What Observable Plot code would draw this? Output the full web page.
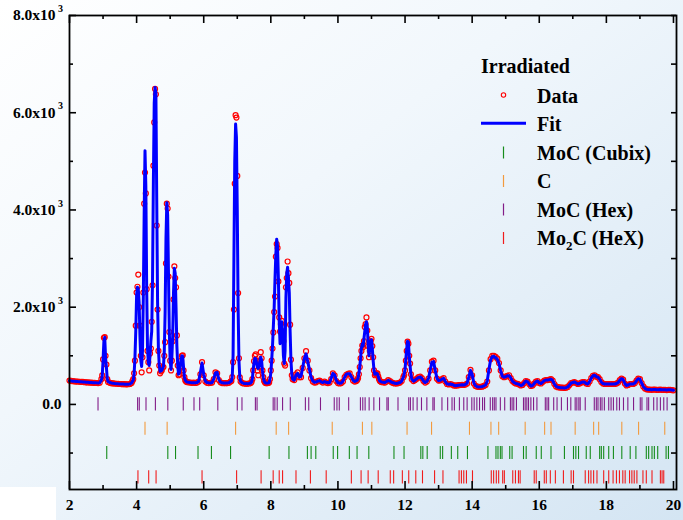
<!DOCTYPE html>
<html>
<head>
<meta charset="utf-8">
<script src="https://cdn.jsdelivr.net/npm/d3@7"></script>
<script src="https://cdn.jsdelivr.net/npm/@observablehq/plot@0.6"></script>
<style>
  html, body { margin: 0; padding: 0; }
  body {
    width: 683px; height: 520px; overflow: hidden; position: relative;
    background: linear-gradient(to bottom right, #ffffff 0%, #f1f7fc 40%, #d4e5f3 100%);
    font-family: "Liberation Serif", "Times New Roman", serif;
  }
  #corner { position: absolute; left: 0; top: 487px; width: 56px; height: 33px; background: #ffffff; }
  #chart { position: absolute; left: 0; top: 0; }
  #chart svg { display: block; background: transparent; }
</style>
</head>
<body>
<div id="corner"></div>
<div id="chart"></div>
<script>
// Powder diffraction scan, rows of [2θ, observed counts, calculated counts]
const lowAngle = [
  [2.00,490,485],[2.05,484,482],[2.10,478,479],[2.15,476,476],[2.20,470,473],[2.25,472,470],
  [2.30,466,468],[2.35,462,465],[2.40,463,462],[2.45,458,460],[2.50,455,457],[2.55,452,455],
  [2.60,451,452],[2.65,447,450],[2.70,446,448],[2.75,443,446],[2.80,441,444],[2.85,440,443],
  [2.90,446,446],[2.95,520,500],[2.975,596,580],[3.000,925,900],[3.025,1370,1300],[3.050,1383,1380],
  [3.075,1000,960],[3.100,820,760],[3.125,520,530],[3.150,462,470],[3.20,445,450],[3.25,438,440],
  [3.30,432,434],[3.35,430,430],[3.40,425,427],[3.45,424,424],[3.50,420,422],[3.55,419,420],
  [3.60,416,418],[3.65,417,416],[3.70,414,415],[3.75,415,416],[3.80,420,420],[3.85,440,440],
  [3.875,480,470]
];
const mainCluster = [
  [3.900,520,500],[3.925,640,620],[3.950,900,950],[3.975,1620,1500],[4.000,2300,2250],[4.025,2420,2410],
  [4.050,2670,2380],[4.075,2000,2100],[4.100,1620,1400],[4.125,1000,900],[4.150,660,780],[4.175,970,1100],
  [4.200,2300,2200],[4.225,4130,3900],[4.250,4770,5220],[4.275,4340,4500],[4.300,2370,2400],[4.325,1100,1150],
  [4.350,870,860],[4.375,700,800],[4.400,1050,1000],[4.425,1150,1300],[4.450,1700,1500],[4.475,2450,2600],
  [4.500,4910,4600],[4.525,5800,6200],[4.550,6490,6520],[4.575,6380,6400],[4.600,3680,4200],[4.625,1950,2100],
  [4.650,1100,1150],[4.675,800,800],[4.700,640,680],[4.725,680,690],[4.750,700,700],[4.775,760,740],
  [4.800,770,780],[4.825,1000,1100],[4.850,1280,1900],[4.875,2900,3400],[4.900,4130,4150],[4.925,4030,3900],
  [4.950,2630,2700],[4.975,1490,1500],[5.000,900,900],[5.025,700,720],[5.050,900,950],[5.075,1300,1400],
  [5.100,2160,2300],[5.125,2840,2800],[5.150,2600,2700],[5.175,2410,2000],[5.200,1420,1200],[5.225,800,800],
  [5.250,600,620],[5.275,620,650],[5.300,750,780],[5.325,900,920],[5.350,1000,1000],[5.375,1010,990],
  [5.400,700,750],[5.425,560,560],[5.450,490,500],[5.475,470,470],[5.500,460,460]
];
const midLow = [
  [5.55,455,455],[5.60,450,450],[5.65,445,448],[5.70,448,447],[5.75,442,446],[5.80,450,450],
  [5.85,470,475],[5.90,620,650],[5.95,870,850],[6.00,600,620],[6.05,470,480],[6.10,445,450],
  [6.15,440,445],[6.20,445,442],[6.25,450,450],[6.30,520,530],[6.35,660,650],[6.40,640,660],
  [6.45,500,520],[6.50,455,460],[6.55,440,445],[6.60,440,440],[6.65,438,440],[6.70,440,440],
  [6.75,445,445],[6.80,470,470]
];
const peak695 = [
  [6.825,480,480],[6.850,560,560],[6.875,870,1000],[6.900,1950,3000],[6.925,4540,5000],[6.950,5950,5770],
  [6.975,5900,5500],[7.000,4700,4000],[7.025,2290,2000],[7.050,950,900],[7.075,555,560],[7.100,470,470],
  [7.15,440,445],[7.20,430,432],[7.25,425,428],[7.30,425,426],[7.35,430,430],[7.40,440,440]
];
const doublet760 = [
  [7.425,460,460],[7.450,520,530],[7.475,700,720],[7.500,890,870],[7.525,1000,950],[7.550,1030,940],
  [7.575,900,850],[7.600,700,760],[7.625,600,740],[7.650,760,780],[7.675,900,900],[7.700,1075,970],
  [7.725,950,900],[7.750,700,700],[7.775,560,560],[7.800,480,480],[7.825,450,450],[7.850,440,440]
];
const group820 = [
  [7.875,440,440],[7.900,440,438],[7.925,445,442],[7.950,450,450],[7.975,520,520],[8.000,700,650],
  [8.025,900,900],[8.050,1150,1200],[8.075,1480,1600],[8.100,1900,2000],[8.125,2220,2600],[8.150,3040,3100],
  [8.175,3300,3400],[8.200,3220,3250],[8.225,2530,2600],[8.250,1790,1700],[8.275,1500,1250],[8.300,1650,1600],
  [8.325,1720,1700],[8.350,1600,1500],[8.375,1300,1000],[8.400,840,840],[8.425,800,1100],[8.450,2410,2200],
  [8.475,2600,2700],[8.500,2940,2820],[8.525,2700,2600],[8.550,2500,2300],[8.575,1640,1500],[8.600,920,900],
  [8.625,600,620],[8.650,520,520]
];
const midRange = [
  [8.70,500,500],[8.75,620,600],[8.80,660,640],[8.85,560,560],[8.90,560,580],[8.95,750,760],
  [9.00,950,950],[9.05,1095,1040],[9.10,900,880],[9.15,700,720],[9.20,540,560],[9.25,470,480],
  [9.30,450,455],[9.35,455,460],[9.40,480,480],[9.45,490,490],[9.50,470,465],[9.55,450,450],
  [9.60,470,470],[9.65,450,455],[9.70,440,445],[9.75,450,450],[9.80,520,540],[9.85,640,640],
  [9.90,600,610],[9.95,480,500],[10.00,440,445],[10.05,430,435],[10.10,440,440],[10.15,470,480],
  [10.20,560,560],[10.25,610,620],[10.30,630,630],[10.35,640,630],[10.40,560,570],[10.45,490,500],
  [10.50,470,470],[10.55,480,490]
];
const group1090 = [
  [10.575,500,500],[10.600,540,540],[10.625,620,640],[10.650,770,780],[10.675,950,950],[10.700,1100,1150],
  [10.725,1210,1250],[10.750,1180,1200],[10.775,1300,1350],[10.800,1590,1500],[10.825,1650,1650],[10.850,1790,1700],
  [10.875,1520,1600],[10.900,1200,1250],[10.925,970,1000],[10.950,1100,1150],[10.975,1300,1300],[11.000,1350,1330],
  [11.025,1200,1150],[11.050,970,900],[11.075,700,700],[11.100,600,620],[11.125,620,630],[11.150,640,640],
  [11.175,640,630],[11.200,580,580],[11.225,520,520],[11.250,480,480],[11.275,470,470],[11.300,460,460],
  [11.35,455,455],[11.40,450,450],[11.45,470,470],[11.50,500,495],[11.55,480,480],[11.60,455,455],
  [11.65,440,445],[11.70,430,435],[11.75,430,432],[11.80,440,440],[11.85,450,450],[11.90,480,480],
  [11.95,560,560],[11.975,600,620],[12.000,700,720],[12.025,900,950],[12.050,1100,1150],[12.075,1290,1300],
  [12.100,1250,1280],[12.125,1000,1000],[12.150,840,800],[12.175,620,620],[12.200,520,520]
];
const highAngle = [
  [12.25,480,480],[12.30,500,500],[12.35,530,530],[12.40,560,555],[12.45,570,565],[12.50,540,540],
  [12.55,480,480],[12.60,450,450],[12.65,470,470],[12.70,530,540],[12.75,700,700],[12.80,880,870],
  [12.85,900,880],[12.90,700,700],[12.95,530,540],[13.00,490,490],[13.05,495,495],[13.10,520,520],
  [13.15,540,535],[13.20,470,470],[13.25,420,420],[13.30,410,415],[13.35,420,420],[13.40,410,410],
  [13.45,390,395],[13.50,385,385],[13.55,390,390],[13.60,395,395],[13.65,400,400],[13.70,405,405],
  [13.75,400,400],[13.80,410,410],[13.85,430,440],[13.90,560,560],[13.95,710,700],[14.00,600,620],
  [14.05,430,440],[14.10,380,385],[14.15,365,365],[14.20,360,360],[14.25,362,362],[14.30,365,365],
  [14.35,380,380],[14.40,400,400],[14.45,470,480],[14.50,700,720],[14.55,930,920],[14.60,1000,980],
  [14.65,1000,990],[14.70,980,960],[14.75,940,930],[14.80,850,840],[14.85,700,690],[14.90,580,580],
  [14.95,560,560],[15.00,570,570],[15.05,590,590],[15.10,600,590],[15.15,540,545],[15.20,480,480],
  [15.25,450,450],[15.30,430,430],[15.35,425,425],[15.40,410,410],[15.45,390,390],[15.50,400,400],
  [15.55,440,440],[15.60,480,480],[15.65,470,470],[15.70,420,420],[15.75,380,380],[15.80,390,390],
  [15.85,430,430],[15.90,470,470],[15.95,480,480],[16.00,440,440],[16.05,430,430],[16.10,460,460],
  [16.15,490,490],[16.20,500,500],[16.25,500,500],[16.30,510,510],[16.35,520,520],[16.40,490,490],
  [16.45,420,420],[16.50,370,370],[16.55,355,355],[16.60,350,350],[16.65,345,345],[16.70,345,345],
  [16.75,340,340],[16.80,345,345],[16.85,360,360],[16.90,400,400],[16.95,440,440],[17.00,450,450],
  [17.05,460,460],[17.10,440,440],[17.15,420,420],[17.20,430,430],[17.25,450,450],[17.30,460,460],
  [17.35,460,460],[17.40,430,430],[17.45,420,420],[17.50,470,470],[17.55,540,540],[17.60,590,590],
  [17.65,600,600],[17.70,570,570],[17.75,560,560],[17.80,520,520],[17.85,460,460],[17.90,430,430],
  [17.95,420,420],[18.00,420,420],[18.05,420,420],[18.10,420,420],[18.15,420,420],[18.20,420,420],
  [18.25,420,420],[18.30,430,430],[18.35,450,450],[18.40,500,500],[18.45,530,530],[18.50,510,510],
  [18.55,430,430],[18.60,390,390],[18.65,400,400],[18.70,420,420],[18.75,420,420],[18.80,420,420],
  [18.85,440,440],[18.90,490,490],[18.95,530,530],[19.00,520,520],[19.05,440,440],[19.10,370,370],
  [19.15,330,330],[19.20,310,310],[19.25,305,305],[19.30,305,305],[19.35,300,300],[19.40,305,305],
  [19.45,305,305],[19.50,300,300],[19.55,300,300],[19.60,305,305],[19.65,300,300],[19.70,300,300],
  [19.75,300,300],[19.80,295,295],[19.85,300,300],[19.90,300,300],[19.95,295,295],[20.00,290,290]
];

// Bragg reflection positions (2θ) for each phase
const reflMoCCubix = [3.11,4.93,5.16,5.83,6.23,6.80,7.95,8.54,9.09,9.20,9.34,9.86,9.99,10.34,10.57,10.92,
  11.67,11.97,12.47,12.53,12.66,13.05,13.12,13.38,13.57,13.86,14.47,14.71,14.77,14.84,14.89,15.12,15.19,
  15.53,15.61,15.91,16.06,16.35,16.75,17.02,17.09,17.17,17.40,17.52,17.80,17.85,17.92,18.07,18.21,18.46,
  18.71,18.88,19.19,19.26,19.36,19.43,19.53,19.78,19.85];
const reflC = [4.25,4.91,6.95,8.16,8.53,9.83,10.73,11.01,12.06,12.79,13.92,14.56,14.79,15.58,16.16,16.35,
  17.07,17.62,17.77,18.46,18.96,19.74];
const reflMoCHex = [2.85,4.03,4.08,4.28,4.56,4.93,5.39,5.71,5.88,6.42,7.00,7.14,7.54,7.59,8.07,8.12,8.19,
  8.35,8.58,9.03,9.13,9.48,9.89,9.97,10.04,10.32,10.67,10.74,10.81,10.93,11.07,11.24,11.46,11.50,11.79,
  12.11,12.16,12.24,12.36,12.49,12.65,12.83,12.87,13.10,13.27,13.40,13.47,13.62,13.75,13.85,13.99,14.06,
  14.14,14.22,14.31,14.37,14.54,14.61,14.66,14.71,14.84,14.97,15.14,15.19,15.24,15.32,15.53,15.58,15.63,
  15.68,15.75,15.83,15.93,16.18,16.23,16.28,16.43,16.53,16.66,16.84,16.94,17.07,17.12,17.18,17.22,17.37,
  17.64,17.70,17.75,17.82,17.87,17.94,18.07,18.14,18.21,18.31,18.39,18.51,18.64,18.81,19.01,19.06,19.21,
  19.26,19.41,19.51,19.61,19.71,19.81];
const reflMo2CHex = [4.04,4.36,4.58,5.95,6.98,7.71,8.07,8.25,8.35,8.75,9.18,9.65,10.40,10.69,10.90,11.20,
  11.56,11.66,11.92,12.11,12.32,12.52,12.88,13.13,13.61,13.68,13.75,13.83,14.01,14.57,14.64,14.72,14.79,
  14.91,14.96,15.21,15.29,15.38,15.43,15.85,15.91,16.15,16.21,16.33,16.48,16.72,16.95,17.02,17.37,17.47,
  17.54,17.62,17.72,17.92,18.07,18.20,18.30,18.39,18.49,18.56,18.69,18.76,18.83,18.91,19.09,19.19,19.36,
  19.61,19.66,19.71];

// Axis ticks
const xMajor = [2, 4, 6, 8, 10, 12, 14, 16, 18, 20];
const xMinor = [3, 5, 7, 9, 11, 13, 15, 17, 19];
const yMajor = [0, 2000, 4000, 6000, 8000];
const yMinor = [-1000, 1000, 3000, 5000, 7000];

const pattern = [...lowAngle, ...mainCluster, ...midLow, ...peak695, ...doublet760,
  ...group820, ...midRange, ...group1090, ...highAngle]
  .map(([t, obs, calc]) => ({t, obs, calc}));

// Each phase's reflection row sits at its own baseline below zero
const phases = [
  {name: "MoC (Cubix)", color: "#168c1c", row: -1000, refl: reflMoCCubix},
  {name: "C", color: "#f29a3e", row: -500, refl: reflC},
  {name: "MoC (Hex)", color: "#821c88", row: 0, refl: reflMoCHex},
  {name: "Mo2C (HeX)", color: "#f01c1c", row: -1500, refl: reflMo2CHex}
];

const W = 683, H = 520;
const M = {top: 15, right: 7, bottom: 31, left: 69};
const innerW = W - M.left - M.right;
const innerH = H - M.top - M.bottom;
const serif = "'Liberation Serif', 'Times New Roman', serif";
const labelFont = {fontFamily: serif, fontWeight: "bold", fontSize: 15.5, fill: "#000"};

// Legend drawn in the upper right of the frame
function legend() {
  const g = d3.create("svg:g").attr("text-anchor", "start");
  const label = (x, y, s) => g.append("text").attr("x", x).attr("y", y)
    .style("font", `bold 20px ${serif}`).style("fill", "#000").text(s);
  label(481, 73, "Irradiated");
  const tx = 537, mx = 503.5;
  g.append("circle").attr("cx", mx).attr("cy", 95).attr("r", 2.2)
    .attr("fill", "none").attr("stroke", "#ff0000").attr("stroke-width", 1.1);
  label(tx, 102.5, "Data");
  g.append("line").attr("x1", 481).attr("x2", 526).attr("y1", 123.3).attr("y2", 123.3)
    .attr("stroke", "#0000ff").attr("stroke-width", 3);
  label(tx, 131, "Fit");
  phases.forEach((p, i) => {
    const base = 159.5 + i * 28.5;
    g.append("line").attr("x1", mx).attr("x2", mx).attr("y1", base - 13).attr("y2", base - 1)
      .attr("stroke", p.color).attr("stroke-width", 1.2);
    if (p.name === "Mo2C (HeX)") {
      const t = label(tx, base, null);
      t.append("tspan").text("Mo");
      t.append("tspan").style("font-size", "13px").attr("dy", 5).text("2");
      t.append("tspan").attr("dy", -5).text("C (HeX)");
    } else {
      label(tx, base, p.name);
    }
  });
  return g.node();
}

const yPowers = yMajor.filter(d => d !== 0);

const chart = Plot.plot({
  width: W, height: H,
  marginTop: M.top, marginRight: M.right, marginBottom: M.bottom, marginLeft: M.left,
  style: {background: "transparent", fontFamily: serif, color: "#000"},
  x: {domain: [2, 20.09]},
  y: {domain: [-1750, 8000]},
  marks: [
    ...phases.map(p => Plot.ruleX(p.refl, {
      x: d => d, y1: p.row - 135, y2: p.row + 135, stroke: p.color, strokeWidth: 1.1
    })),
    Plot.dot(pattern, {x: "t", y: "obs", r: 2.5, stroke: "#ff0000", strokeWidth: 1.2, fill: "none"}),
    Plot.line(pattern, {x: "t", y: "calc", stroke: "#0000ff", strokeWidth: 3, strokeLinejoin: "round"}),
    Plot.frame({stroke: "#000", strokeWidth: 1.8}),
    // inward-pointing ticks on all four sides
    Plot.tickY(yMajor, {y: d => d, insetRight: innerW - 7, stroke: "#000", strokeWidth: 1.6}),
    Plot.tickY(yMinor, {y: d => d, insetRight: innerW - 4, stroke: "#000", strokeWidth: 1.6}),
    Plot.tickY([...yMajor, ...yMinor], {y: d => d, insetLeft: innerW - 5, stroke: "#000", strokeWidth: 1.6}),
    Plot.tickX(xMajor, {x: d => d, insetTop: innerH - 8, stroke: "#000", strokeWidth: 1.6}),
    Plot.tickX(xMinor, {x: d => d, insetTop: innerH - 4, stroke: "#000", strokeWidth: 1.6}),
    Plot.tickX(xMajor, {x: d => d, insetBottom: innerH - 8, stroke: "#000", strokeWidth: 1.6}),
    Plot.tickX(xMinor, {x: d => d, insetBottom: innerH - 4, stroke: "#000", strokeWidth: 1.6}),
    Plot.axisX({ticks: xMajor, tickSize: 0, tickPadding: 9, tickFormat: d => String(d),
      label: null, ...labelFont}),
    // y labels: mantissa "n.nx10" with a raised exponent, and a plain "0.0"
    Plot.axisY({ticks: [0], tickSize: 0, tickPadding: 8, tickFormat: () => "0.0",
      label: null, ...labelFont}),
    Plot.axisY({ticks: yPowers, tickSize: 0, tickPadding: 14,
      tickFormat: d => `${(d / 1000).toFixed(1)}x10`, label: null, ...labelFont}),
    Plot.text(yPowers, {y: d => d, frameAnchor: "left", text: () => "3", textAnchor: "start",
      dx: -11.5, dy: -6.5, fontFamily: serif, fontWeight: "bold", fontSize: 10, fill: "#000"}),
    legend
  ]
});

document.getElementById("chart").appendChild(chart);
</script>
</body>
</html>
